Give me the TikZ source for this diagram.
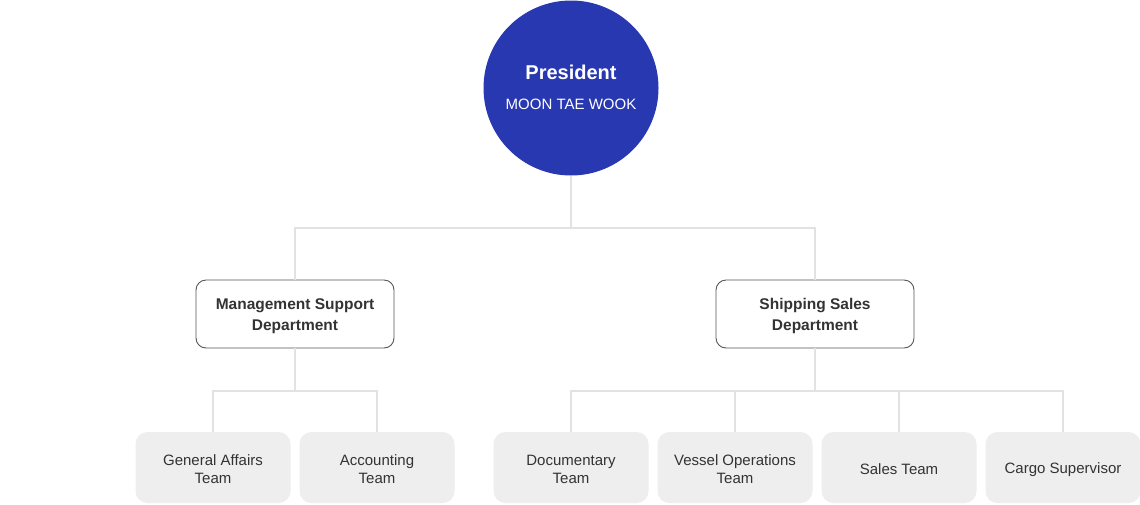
\documentclass[tikz,border=0pt]{standalone}
\usepackage{fontspec}
\setmainfont{Liberation Sans}
\definecolor{presblue}{HTML}{2838B0}
\definecolor{connc}{HTML}{E2E2E2}
\definecolor{deptborder}{HTML}{555555}
\definecolor{txt}{HTML}{333333}
\definecolor{teamfill}{HTML}{EEEEEE}
\begin{document}
\begin{tikzpicture}[x=1pt,y=-1pt,
  conn/.style={draw=connc,line width=2pt},
  deptbox/.style={draw=deptborder,line width=0.9pt,rounded corners=10pt,fill=white,
    minimum width=198pt,minimum height=68pt,inner sep=0pt},
  depttext/.style={align=center,text=txt,font=\fontsize{15.5}{21}\selectfont\bfseries,inner sep=0pt},
  teambox/.style={fill=teamfill,rounded corners=12pt,minimum width=155pt,minimum height=71pt,inner sep=0pt},
  teamtext/.style={align=center,text=txt,font=\fontsize{15}{18}\selectfont,inner sep=0pt}]
\path[use as bounding box,fill=white] (0,0) rectangle (1140,504);
\node[circle,fill=presblue,minimum size=175pt,inner sep=0pt] (pres) at (571,88) {};
\node[anchor=base,text=white,font=\fontsize{20}{24}\selectfont\bfseries,inner sep=0pt] (prestitle) at (571,79) {President};
\node[anchor=base,text=white,font=\fontsize{15}{18}\selectfont,inner sep=0pt] (presname) at (571,109) {MOON TAE WOOK};
\node[deptbox] (mgmt) at (295,314) {};
\node[depttext] (mgmttxt) at (295,316) {Management Support\\Department};
\node[deptbox] (ship) at (815,314) {};
\node[depttext] (shiptxt) at (815,316) {Shipping Sales\\Department};
\node[teambox] (ga) at (213,467.5) {};
\node[teamtext] (gatxt) at (213,469.5) {General Affairs\\Team};
\node[teambox] (acc) at (377,467.5) {};
\node[teamtext] (acctxt) at (377,469.5) {Accounting\\Team};
\node[teambox] (doc) at (571,467.5) {};
\node[teamtext] (doctxt) at (571,469.5) {Documentary\\Team};
\node[teambox] (ves) at (735,467.5) {};
\node[teamtext] (vestxt) at (735,469.5) {Vessel Operations\\Team};
\node[teambox] (sal) at (899,467.5) {};
\node[teamtext] (saltxt) at (899,469.5) {Sales Team};
\node[teambox] (cargo) at (1063,467.5) {};
\node[teamtext] (cargotxt) at (1063,469.5) {Cargo Supervisor};
\coordinate (j1) at (571,228);
\coordinate (j2) at (295,391);
\coordinate (j3) at (815,391);
\draw[conn] (pres.south) -- (j1);
\draw[conn] (j1) -| (mgmt.north);
\draw[conn] (j1) -| (ship.north);
\draw[conn] (mgmt.south) -- (j2);
\draw[conn] (j2) -| (ga.north);
\draw[conn] (j2) -| (acc.north);
\draw[conn] (ship.south) -- (j3);
\draw[conn] (j3) -| (doc.north);
\draw[conn] (j3) -| (ves.north);
\draw[conn] (j3) -| (sal.north);
\draw[conn] (j3) -| (cargo.north);
\end{tikzpicture}
\end{document}
